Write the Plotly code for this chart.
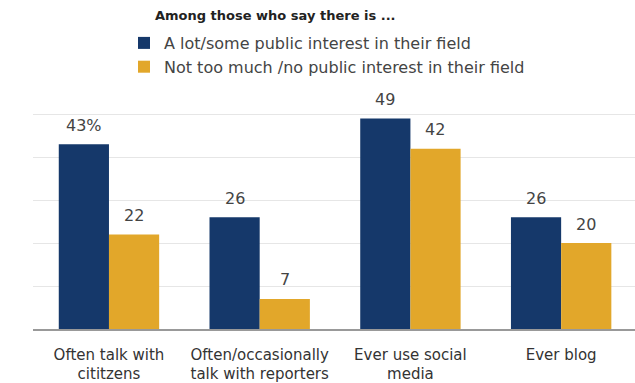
import plotly.graph_objects as go

# Share of scientists who engage with the public, by perceived public interest in their field
categories = [
    "Often talk with<br>cititzens",
    "Often/occasionally<br>talk with reporters",
    "Ever use social<br>media",
    "Ever blog",
]
high_interest = [43, 26, 49, 26]
low_interest = [22, 7, 42, 20]
series_names = [
    "A lot/some public interest in their field",
    "Not too much /no public interest in their field",
]
legend_heading = "Among those who say there is ..."

NAVY = "#15386a"
GOLD = "#e2a72a"
FONT = "DejaVu Sans"

W, H = 635, 383
ML, MR, MT, MB = 33, 0, 110, 54
PW, PH = W - ML - MR, H - MT - MB

fig = go.Figure()
fig.add_trace(go.Bar(x=categories, y=high_interest, name=series_names[0],
                     marker=dict(color=NAVY, line=dict(width=0))))
fig.add_trace(go.Bar(x=categories, y=low_interest, name=series_names[1],
                     marker=dict(color=GOLD, line=dict(width=0))))

# value labels above each bar (first one carries the percent sign)
bar_half = 25
for series, shift in ((high_interest, -bar_half), (low_interest, bar_half)):
    for i, (cat, v) in enumerate(zip(categories, series)):
        label = f"{v}%" if (series is high_interest and i == 0) else str(v)
        fig.add_annotation(x=cat, y=v, text=label, showarrow=False,
                           xshift=shift, yshift=19, yanchor="middle",
                           font=dict(family=FONT, size=16, color="#444444"))

def px_x(p):
    return (p - ML) / PW

def px_y(p):
    return (H - MB - p) / PH

fig.add_annotation(xref="paper", yref="paper", x=px_x(153), y=px_y(15),
                   xanchor="left", yanchor="middle", showarrow=False,
                   text=f"<b>{legend_heading}</b>",
                   font=dict(family=FONT, size=13, color="#222222"))

fig.update_layout(
    width=W, height=H,
    margin=dict(l=ML, r=MR, t=MT, b=MB, pad=0),
    paper_bgcolor="white", plot_bgcolor="white",
    barmode="group", bargap=0.334, bargroupgap=0,
    font=dict(family=FONT, color="#333333"),
    legend=dict(x=px_x(124), y=px_y(26), xanchor="left", yanchor="top",
                orientation="v", font=dict(family=FONT, size=16, color="#444444"),
                bgcolor="rgba(0,0,0,0)", itemclick=False, tracegroupgap=0),
    xaxis=dict(range=[-0.504, 3.49], showgrid=False, showline=True,
               linecolor="#999999", linewidth=1.5, ticks="outside",
               ticklen=11, tickcolor="rgba(0,0,0,0)",
               tickfont=dict(family=FONT, size=15, color="#333333")),
    yaxis=dict(range=[0, 51], dtick=10, showticklabels=False,
               showgrid=True, gridcolor="#e6e6e6", gridwidth=1,
               zeroline=False, showline=False),
)

fig.write_html("out.html")
